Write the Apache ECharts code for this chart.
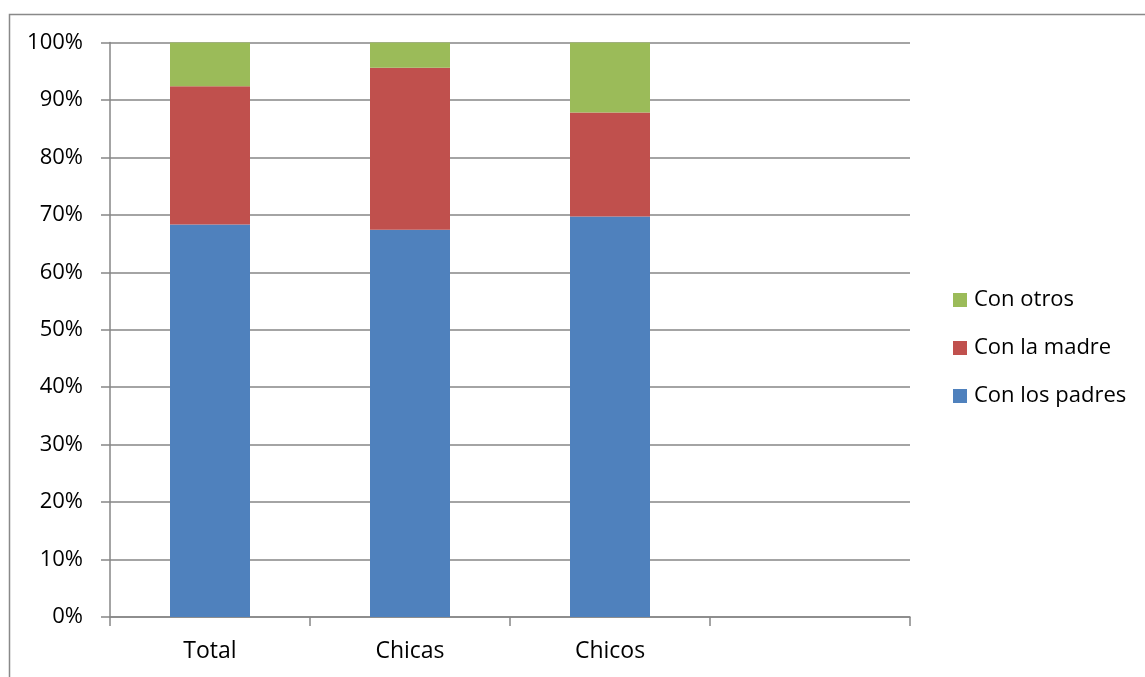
<!DOCTYPE html>
<html>
<head>
<meta charset="utf-8">
<script src="https://cdn.jsdelivr.net/npm/echarts@6/dist/echarts.min.js"></script>
<style>html,body{margin:0;padding:0;background:#fff;}#c{width:1145px;height:677px;}</style>
</head>
<body>
<div id="c"></div>
<script>
const categories = ['Total', 'Chicas', 'Chicos', ''];
const conLosPadres = [68.3, 67.4, 69.7, null];
const conLaMadre = [24.1, 28.2, 18.1, null];
const conOtros = [7.6, 4.4, 12.2, null];
const yTicks = [0, 10, 20, 30, 40, 50, 60, 70, 80, 90, 100];

const FONT = "'Open Sans', 'Liberation Sans', sans-serif";
const chart = echarts.init(document.getElementById('c'));
const barW = '40%';
chart.setOption({
  animation: false,
  backgroundColor: '#fff',
  graphic: [{
    type: 'rect', left: 7, top: 12,
    shape: { width: 1160, height: 700 },
    style: { fill: 'none', stroke: '#898989', lineWidth: 1.5 },
    silent: true
  }],
  grid: { left: 110, right: 235, top: 42.5, bottom: 60, containLabel: false },
  legend: {
    orient: 'vertical', left: 953, top: 289, padding: 0,
    itemWidth: 14, itemHeight: 14, itemGap: 26,
    icon: 'rect',
    data: ['Con otros', 'Con la madre', 'Con los padres'],
    textStyle: { fontFamily: FONT, fontSize: 22, lineHeight: 22, color: '#000', padding: [0, 0, 0, 2] }
  },
  xAxis: {
    type: 'category', data: categories,
    axisLine: { lineStyle: { color: '#868686', width: 1.5 } },
    axisTick: { show: true, length: 9, lineStyle: { color: '#868686', width: 1.5 } },
    axisLabel: { fontFamily: FONT, fontSize: 23, color: '#000', margin: 23 },
    splitLine: { show: false }
  },
  yAxis: {
    type: 'value', min: 0, max: 100, interval: 10,
    axisLine: { show: true, lineStyle: { color: '#868686', width: 1.5 } },
    axisTick: { show: true, inside: false, length: 9, lineStyle: { color: '#868686', width: 1.5 } },
    axisLabel: {
      fontFamily: FONT, fontSize: 22, color: '#000', margin: 27,
      formatter: v => yTicks.includes(v) ? v + '%' : ''
    },
    splitLine: { lineStyle: { color: '#868686', width: 1.5 } }
  },
  series: [
    { name: 'Con los padres', type: 'bar', stack: 's', barWidth: barW, data: conLosPadres,
      itemStyle: { color: '#4F81BD' } },
    { name: 'Con la madre', type: 'bar', stack: 's', barWidth: barW, data: conLaMadre,
      itemStyle: { color: '#C0504D' } },
    { name: 'Con otros', type: 'bar', stack: 's', barWidth: barW, data: conOtros,
      itemStyle: { color: '#9BBB59' } }
  ]
});
</script>
</body>
</html>
